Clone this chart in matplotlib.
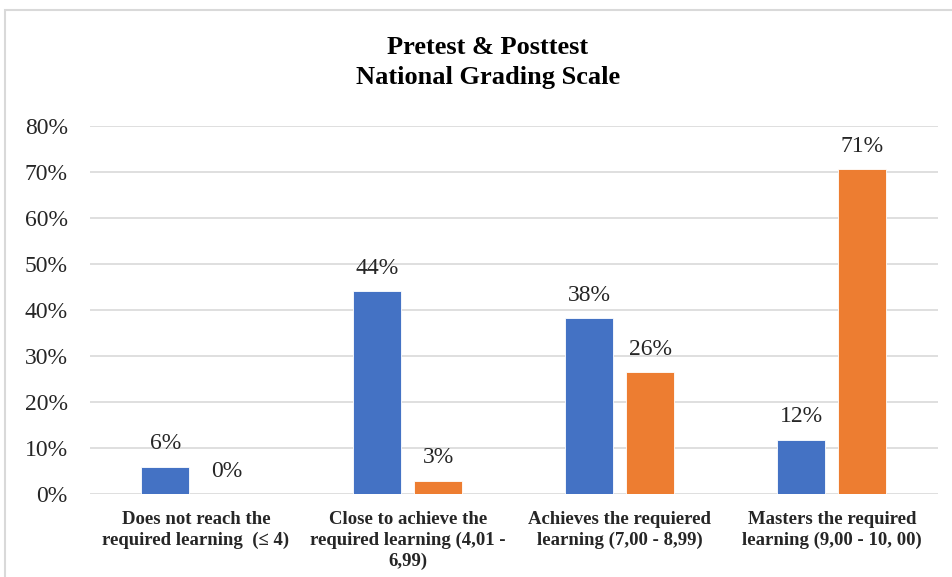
import numpy as np
import matplotlib
matplotlib.use("Agg")
import matplotlib.pyplot as plt
from matplotlib.patches import Rectangle

plt.rcParams['font.family'] = ['Liberation Serif', 'DejaVu Serif']

# data
categories = ["Does not reach the\nrequired learning  (\u2264 4)",
              "Close to achieve the\nrequired learning (4,01 -\n6,99)",
              "Achieves the requiered\nlearning (7,00 - 8,99)",
              "Masters the required\nlearning (9,00 - 10, 00)"]
pretest = [5.9, 44.1, 38.2, 11.8]
posttest = [0.0, 2.9, 26.5, 70.6]
pre_labels = ["6%", "44%", "38%", "12%"]
post_labels = ["0%", "3%", "26%", "71%"]

blue = "#4472C4"
orange = "#ED7D31"

fig = plt.figure(figsize=(9.53, 5.77), dpi=100)
ax = fig.add_axes([0.0944, 0.1438, 0.8896, 0.6378])

x = np.arange(len(categories))
w = 0.226
off = 0.144

b1 = ax.bar(x - off, pretest, w, color=blue, edgecolor="white", linewidth=0.6, zorder=3)
b2 = ax.bar(x + off, posttest, w, color=orange, edgecolor="white", linewidth=0.6, zorder=3)

for bars, labs in ((b1, pre_labels), (b2, post_labels)):
    for r, lab in zip(bars, labs):
        ax.annotate(lab, (r.get_x() + r.get_width() / 2, r.get_height()),
                    xytext=(0, 9), textcoords="offset points",
                    ha="center", va="bottom", fontsize=17, color="#262626")

ax.set_xlim(-0.5, len(categories) - 0.5)
ax.set_ylim(0, 80)
ax.set_yticks(np.arange(0, 81, 10))
ax.set_yticklabels([f"{v}%" for v in range(0, 81, 10)], fontsize=17, color="#262626")
ax.set_xticks(x)
ax.set_xticklabels(categories, fontsize=13.5, fontweight="bold", color="#262626",
                   linespacing=1.3, va="top")
ax.tick_params(axis="both", length=0)
ax.tick_params(axis="y", pad=16)
ax.tick_params(axis="x", pad=12)
ax.grid(axis="y", color="#d9d9d9", linewidth=1.2, zorder=0)
for s in ax.spines.values():
    s.set_visible(False)

fig.text(0.512, 0.892, "Pretest & Posttest\nNational Grading Scale",
         ha="center", va="center", fontsize=19, fontweight="bold",
         linespacing=1.4, color="black")

fig.patches.append(Rectangle((5 / 953, -0.01), 1.0, 1 - 10 / 577 + 0.01,
                             transform=fig.transFigure, fill=False,
                             edgecolor="#d9d9d9", linewidth=1.5))

fig.savefig("out.png", dpi=100)
